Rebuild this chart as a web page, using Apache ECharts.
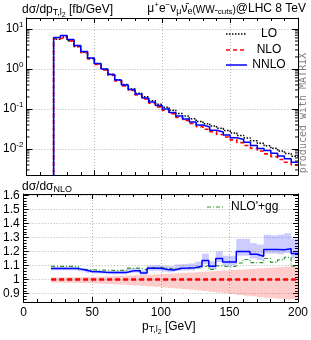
<!DOCTYPE html>
<html><head><meta charset="utf-8">
<script src="https://cdn.jsdelivr.net/npm/echarts@6/dist/echarts.min.js"></script>
<style>html,body{margin:0;padding:0;background:#fff}#c{width:311px;height:340px}</style>
</head><body><div id="c"></div>
<script>
// ---------- data ----------
const binEdges = [20,25,30,35,40,45,50,55,60,65,70,75,80,85,90,95,100,105,110,115,120,125,130,135,140,145,150,155,160,165,170,175,180,185,190,195,200];
const loValues = [5.58,6.32,5.06,3.63,2.62,1.830,1.351,0.999,0.736,0.541,0.409,0.318,0.248,0.203,0.160,0.132,0.111,0.0935,0.0774,0.0664,0.0571,0.0486,0.0427,0.0377,0.0330,0.0291,0.0252,0.0218,0.0188,0.0162,0.0140,0.0120,0.0104,0.00893,0.00769,0.00663];
const nloValues = [5.69,6.38,5.06,3.59,2.57,1.777,1.299,0.951,0.694,0.506,0.379,0.289,0.223,0.1796,0.1389,0.1130,0.0933,0.0766,0.0619,0.0519,0.0436,0.0363,0.0312,0.0269,0.0231,0.0199,0.01694,0.01442,0.01227,0.01044,0.00889,0.00756,0.00644,0.00548,0.00466,0.00397];
const nnloValues = [6.13,6.88,5.45,3.87,2.74,1.88,1.370,1.000,0.729,0.531,0.398,0.307,0.237,0.188,0.150,0.122,0.100,0.0818,0.0669,0.0562,0.0473,0.0397,0.0354,0.0295,0.0266,0.0224,0.01906,0.01730,0.01472,0.01232,0.01037,0.00919,0.00782,0.00664,0.00569,0.00470];
const underflowValue = 1e-4; // empty region below 20 GeV

const ratioNLO = [1,1,1,1,1,1,1,1,1,1,1,1,1,1,1,1,1,1,1,1,1,1,1,1,1,1,1,1,1,1,1,1,1,1,1,1];
const ratioNNLO = [1.078,1.078,1.078,1.078,1.068,1.058,1.055,1.052,1.050,1.050,1.050,1.062,1.062,1.047,1.080,1.080,1.072,1.068,1.080,1.082,1.085,1.095,1.135,1.095,1.150,1.125,1.125,1.200,1.200,1.180,1.166,1.215,1.215,1.212,1.220,1.185];
const ratioNLOgg = [1.094,1.094,1.094,1.093,1.072,1.070,1.068,1.067,1.066,1.066,1.066,1.082,1.082,1.068,1.085,1.086,1.080,1.076,1.080,1.080,1.082,1.088,1.100,1.072,1.098,1.090,1.095,1.118,1.143,1.121,1.120,1.150,1.122,1.140,1.158,1.095];
const bandNLOLow  = [0.978,0.978,0.977,0.977,0.975,0.974,0.972,0.971,0.968,0.966,0.963,0.960,0.957,0.954,0.951,0.948,0.944,0.940,0.936,0.932,0.928,0.923,0.918,0.913,0.908,0.903,0.897,0.891,0.885,0.880,0.875,0.870,0.866,0.862,0.858,0.862];
const bandNLOHigh = [1.016,1.016,1.017,1.017,1.018,1.019,1.020,1.021,1.023,1.025,1.027,1.029,1.031,1.033,1.035,1.037,1.040,1.042,1.045,1.048,1.050,1.053,1.056,1.059,1.062,1.065,1.068,1.071,1.074,1.077,1.080,1.083,1.086,1.089,1.092,1.090];
const bandNNLOLow  = [1.066,1.066,1.066,1.066,1.058,1.048,1.044,1.042,1.038,1.038,1.038,1.048,1.050,1.036,1.062,1.062,1.056,1.052,1.062,1.064,1.066,1.075,1.110,1.075,1.125,1.100,1.100,1.170,1.170,1.150,1.140,1.185,1.185,1.180,1.190,1.155];
const bandNNLOHigh = [1.090,1.090,1.090,1.090,1.080,1.070,1.066,1.063,1.062,1.063,1.064,1.080,1.082,1.066,1.100,1.102,1.098,1.095,1.108,1.110,1.115,1.128,1.185,1.130,1.200,1.170,1.170,1.290,1.290,1.260,1.250,1.320,1.315,1.320,1.330,1.290];

const logMinorTicks = [0.003,0.004,0.005,0.006,0.007,0.008,0.009,0.02,0.03,0.04,0.05,0.06,0.07,0.08,0.09,0.2,0.3,0.4,0.5,0.6,0.7,0.8,0.9,2,3,4,5,6,7,8,9];

// ---------- helpers ----------
const FONT = '"Liberation Sans", Arial, Helvetica, sans-serif';
function stepData(vals, lead) {
  const d = [];
  if (lead != null) d.push([binEdges[0], lead]);
  vals.forEach((v, i) => d.push([binEdges[i], v]));
  d.push([binEdges[vals.length], vals[vals.length - 1]]);
  return d;
}
function bandData(lo, hi) {
  return lo.map((l, i) => [binEdges[i], binEdges[i + 1], l, hi[i]]);
}
function bandSeries(name, lo, hi, color) {
  return {
    name, type: 'custom', xAxisIndex: 2, yAxisIndex: 2, z: 1, silent: true,
    data: bandData(lo, hi),
    encode: { x: [0, 1], y: [2, 3] },
    renderItem: function (params, api) {
      const p0 = api.coord([api.value(0), api.value(3)]);
      const p1 = api.coord([api.value(1), api.value(2)]);
      const r = echarts.graphic.clipRectByRect(
        { x: p0[0], y: p0[1], width: p1[0] - p0[0], height: p1[1] - p0[1] },
        params.coordSys);
      return r && { type: 'rect', shape: r, style: { fill: color } };
    }
  };
}
const gridLine = { show: true, lineStyle: { color: '#b4b4b4', type: [1, 2], width: 1 } };
const axisLine = { show: true, onZero: false, lineStyle: { color: '#000', width: 1 } };
function xAxisCfg(gridIndex, position, labels) {
  return {
    type: 'value', gridIndex, position, min: 0, max: 200, interval: 50,
    axisLine,
    axisTick: { show: true, inside: true, length: 5, lineStyle: { color: '#000' } },
    minorTick: { show: true, splitNumber: 5, length: 3, lineStyle: { color: '#000' } },
    axisLabel: { show: labels, color: '#000', fontSize: 12, fontFamily: FONT, margin: 5 },
    splitLine: position === 'bottom' ? gridLine : { show: false },
    minorSplitLine: { show: false }
  };
}
function logYCfg(position, labels) {
  return {
    type: 'log', logBase: 10, gridIndex: 0, position, min: 0.00224, max: 18.84,
    axisLine,
    axisTick: { show: true, inside: true, length: 6, lineStyle: { color: '#000' } },
    axisLabel: {
      show: labels, color: '#000', fontFamily: FONT, margin: 3,
      formatter: function (v) {
        const l = Math.log10(v), e = Math.round(l);
        if (Math.abs(l - e) > 1e-6) return '';
        return '{b|10}{s|' + e + '}';
      },
      rich: {
        b: { fontSize: 12, fontFamily: FONT, lineHeight: 13 },
        s: { fontSize: 8, fontFamily: FONT, lineHeight: 8, padding: [0, 0, 8, 0] }
      }
    },
    splitLine: position === 'left' ? gridLine : { show: false }
  };
}
function ratioYCfg(position, labels) {
  return {
    type: 'value', gridIndex: 1, position, min: 0.84, max: 1.61, splitNumber: 8,
    axisLine,
    axisTick: { show: true, inside: true, length: 5, lineStyle: { color: '#000' } },
    minorTick: { show: true, splitNumber: 5, length: 3, lineStyle: { color: '#000' } },
    axisLabel: {
      show: labels, color: '#000', fontSize: 12, fontFamily: FONT, margin: 4,
      formatter: function (v) {
        if (Math.abs(v * 10 - Math.round(v * 10)) > 1e-6) return '';
        return String(Math.round(v * 10) / 10);
      }
    },
    splitLine: position === 'left' ? gridLine : { show: false },
    minorSplitLine: { show: false }
  };
}
function stepLine(name, xi, yi, data, color, type, width, z) {
  return {
    name, type: 'line', xAxisIndex: xi, yAxisIndex: yi, step: 'end', data,
    symbol: 'none', showSymbol: false, clip: true, z, silent: true,
    lineStyle: { color, type, width }, itemStyle: { color }
  };
}
function legendRow(x1, x2, y, tx, align, label, stroke, dash, width) {
  return [
    { type: 'line', silent: true, z: 10, shape: { x1, y1: y, x2, y2: y },
      style: { stroke, lineWidth: width, lineDash: dash } },
    { type: 'text', silent: true, z: 10, x: tx, y,
      style: { text: label, font: '12px ' + FONT, fill: '#000', align, verticalAlign: 'middle' } }
  ];
}

const chart = echarts.init(document.getElementById('c'), null, { renderer: 'canvas' });
const sub = { fontSize: 9, fontFamily: FONT, lineHeight: 9, padding: [6, 0, 0, 0] };
const subsub = { fontSize: 7, fontFamily: FONT, lineHeight: 7, padding: [11, 0, 0, 0] };
const sup = { fontSize: 8, fontFamily: FONT, lineHeight: 8, padding: [0, 0, 7, 0] };
const main = { fontSize: 12, fontFamily: FONT, lineHeight: 14 };

chart.setOption({
  animation: false,
  backgroundColor: '#fff',
  grid: [
    { left: 22, right: 13, top: 18, height: 157 },
    { left: 22, right: 13, top: 194, height: 108 }
  ],
  xAxis: [xAxisCfg(0, 'bottom', false), xAxisCfg(0, 'top', false), xAxisCfg(1, 'bottom', true), xAxisCfg(1, 'top', false)],
  yAxis: [logYCfg('left', true), logYCfg('right', false), ratioYCfg('left', true), ratioYCfg('right', false)],
  graphic: [
    { type: 'text', left: 22, top: 1, silent: true,
      style: { text: '{m|dσ/dp}{s|T,l}{ss|2}{m| [fb/GeV]}', rich: { m: main, s: sub, ss: subsub }, fill: '#000' } },
    { type: 'text', right: 5, top: 1, silent: true,
      style: { text: '{m|μ}{p|+}{m|e}{p|−}{m|ν}{s|μ}{m|ν̄}{s|e}{w|(WW-}{c|cuts}{w|)}{m|@LHC 8 TeV}',
        rich: { m: main, s: sub, p: sup, w: { fontSize: 10, fontFamily: FONT, lineHeight: 11, padding: [3, 0, 0, 0] },
          c: { fontSize: 8, fontFamily: FONT, lineHeight: 8, padding: [6, 0, 0, 0] } }, fill: '#000' } },
    { type: 'text', left: 22, top: 179, silent: true,
      style: { text: '{m|dσ/dσ}{s|NLO}', rich: { m: main, s: sub }, fill: '#000' } },
    { type: 'text', left: 142, top: 318, silent: true,
      style: { text: '{m|p}{s|T,l}{ss|2}{m| [GeV]}', rich: { m: main, s: sub, ss: subsub }, fill: '#000' } },
    { type: 'text', x: 303, y: 113, rotation: Math.PI / 2, silent: true,
      style: { text: 'produced with MATRIX', font: '10px "DejaVu Sans Mono", monospace', fill: '#808080',
        align: 'center', verticalAlign: 'middle' } }
  ].concat(
    legendRow(226, 247, 34, 269, 'center', 'LO', '#000', [1.5, 1.5], 1.5),
    legendRow(226, 247, 50, 269, 'center', 'NLO', '#ff0000', [4, 3], 1.6),
    legendRow(226, 247, 65, 269, 'center', 'NNLO', '#0000ff', null, 1.5),
    legendRow(207, 223, 207, 231, 'left', "NLO'+gg", '#2e9a2e', [4, 2, 1, 2], 1.2)
  ),
  series: [
    stepLine('LO', 0, 0, stepData(loValues, underflowValue), '#000', 'dotted', 1.5, 3),
    stepLine('NLO', 0, 0, stepData(nloValues, underflowValue), '#ff0000', [4, 3], 1.6, 4),
    stepLine('NNLO', 0, 0, stepData(nnloValues, underflowValue), '#0000ff', 'solid', 1.5, 5),
    {
      name: 'minor', type: 'custom', xAxisIndex: 0, yAxisIndex: 0, silent: true, z: 6,
      data: logMinorTicks.map(v => [0, v]),
      renderItem: function (params, api) {
        const pl = api.coord([0, api.value(1)]);
        const pr = api.coord([200, api.value(1)]);
        return { type: 'group', children: [
          { type: 'line', shape: { x1: pl[0], y1: pl[1], x2: pl[0] + 3, y2: pl[1] }, style: { stroke: '#000', lineWidth: 1 } },
          { type: 'line', shape: { x1: pr[0], y1: pr[1], x2: pr[0] - 3, y2: pr[1] }, style: { stroke: '#000', lineWidth: 1 } }
        ] };
      }
    },
    bandSeries('NLO band', bandNLOLow, bandNLOHigh, 'rgba(255,0,0,0.2)'),
    bandSeries('NNLO band', bandNNLOLow, bandNNLOHigh, 'rgba(0,0,255,0.2)'),
    stepLine('NLO ratio', 2, 2, stepData(ratioNLO), '#ff0000', [5, 3], 2.4, 3),
    stepLine("NLO'+gg", 2, 2, stepData(ratioNLOgg), '#2e9a2e', [4, 2, 1, 2], 1.2, 4),
    stepLine('NNLO ratio', 2, 2, stepData(ratioNNLO), '#0000ff', 'solid', 1.5, 5)
  ]
});
</script></body></html>
